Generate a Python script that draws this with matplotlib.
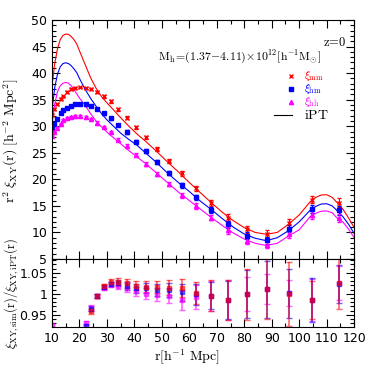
import numpy as np
import matplotlib
matplotlib.use("Agg")
import matplotlib.pyplot as plt
from matplotlib.ticker import MultipleLocator, FormatStrFormatter

plt.rcParams['mathtext.fontset'] = 'cm'
plt.rcParams['font.family'] = 'DejaVu Sans'
plt.rcParams['axes.linewidth'] = 0.8

nan = np.nan

# simulation bins (r in h^-1 Mpc) and r^2 xi values
r_sim = [10.1, 10.8, 11.9, 13.1, 14.1, 15.5, 16.9, 18.5, 20.3, 22.2, 24.2, 26.4, 28.8, 31.4, 34.2,
         37.2, 40.6, 44.1, 48.1, 52.5, 57.2, 62.5, 68.0, 74.2, 81.0, 88.3, 96.2, 104.8, 114.4]
xi_mm = [32.1, 33.2, 34.2, 35.1, 35.6, 36.4, 37.0, 37.2, 37.3, 37.2, 37.0, 36.4, 35.6, 34.7, 33.2,
         31.6, 29.8, 27.9, 25.7, 23.5, 21.1, 18.3, 15.6, 12.8, 10.6, 9.8, 11.8, 16.2, 15.6]
xi_hm = [29.6, 30.4, 31.4, 32.4, 33.1, 33.5, 33.8, 34.1, 34.1, 34.1, 33.8, 33.2, 32.4, 31.5, 30.2,
         28.9, 27.1, 25.3, 23.3, 21.2, 18.9, 16.6, 14.2, 11.5, 9.35, 8.55, 10.7, 14.4, 14.15]
xi_hh = [28.2, 29.0, 29.7, 30.5, 31.2, 31.5, 31.8, 31.9, 31.9, 31.7, 31.4, 30.7, 29.9, 28.9, 27.5,
         26.3, 24.6, 22.9, 21.0, 19.1, 17.0, 14.95, 12.8, 10.4, 8.4, 7.7, 9.65, 13.2, 12.7]
err_top = [0.15, 0.15, 0.15, 0.15, 0.15, 0.15, 0.15, 0.15, 0.15, 0.2, 0.2, 0.2, 0.2, 0.25, 0.25,
           0.3, 0.3, 0.35, 0.35, 0.4, 0.45, 0.5, 0.55, 0.6, 0.65, 0.65, 0.7, 0.75, 0.8]

# iPT predictions
r_ipt = [10, 11, 12, 13, 14, 15, 16, 17, 18, 19, 20, 22, 24, 26, 28, 30, 32, 35, 38, 41, 44, 48,
         52, 56, 60, 64, 68, 72, 76, 80, 84, 88, 92, 96, 100, 104, 106, 108, 110, 112, 114, 116, 118, 120]
ipt_mm = [37.5, 41.8, 44.6, 46.3, 47.1, 47.35, 47.3, 46.9, 46.3, 45.5, 44.2, 41.7, 39.2, 37.2, 35.6,
          34.4, 33.3, 31.6, 30.0, 28.5, 27.2, 25.3, 23.3, 21.4, 19.4, 17.5, 15.6, 13.8, 12.2, 10.9,
          10.0, 9.65, 10.0, 11.5, 13.3, 15.8, 16.6, 17.05, 17.1, 16.6, 15.5, 14.3, 12.7, 10.9]
ipt_hm = [33.0, 37.3, 39.8, 41.2, 41.8, 41.95, 41.8, 41.4, 40.8, 40.1, 39.0, 37.0, 35.3, 33.8, 32.4,
          31.2, 30.2, 28.7, 27.5, 26.4, 25.0, 23.2, 21.2, 19.4, 17.7, 15.9, 14.3, 12.6, 11.0, 9.7,
          8.9, 8.45, 9.0, 10.3, 12.0, 14.2, 14.9, 15.35, 15.4, 15.0, 14.0, 12.9, 11.5, 9.8]
ipt_hh = [30.3, 34.2, 36.5, 37.6, 38.1, 38.25, 38.1, 37.6, 36.9, 36.1, 35.3, 34.0, 32.4, 31.0, 29.9,
          28.9, 28.0, 26.7, 25.4, 24.2, 23.0, 21.2, 19.4, 17.6, 16.0, 14.4, 12.8, 11.3, 9.9, 8.75,
          7.95, 7.55, 7.95, 9.3, 10.5, 13.0, 13.6, 14.0, 14.05, 13.7, 12.6, 11.9, 10.6, 9.0]

# ratio sim / iPT
r_rat = [10.1, 22.2, 24.2, 26.4, 28.8, 31.4, 34.2, 37.2, 40.6, 44.1, 48.1, 52.5, 57.2, 62.5,
         68.0, 74.2, 81.0, 88.3, 96.2, 104.8, 114.4]
rat_mm = [nan, nan, 0.958, 0.995, 1.019, 1.029, 1.029, 1.025, 1.019, 1.017, 1.016, 1.015, 1.014,
          1.002, 0.996, 0.985, 0.999, 1.011, 1.000, 0.985, 1.025]
rat_hm = [nan, 0.924, 0.964, 0.995, 1.016, 1.024, 1.025, 1.019, 1.013, 1.013, 1.010, 1.009, 1.004,
          0.999, 0.996, 0.986, 0.999, 1.011, 1.001, 0.986, 1.024]
rat_hh = [0.926, 0.930, 0.967, 0.995, 1.013, 1.022, 1.019, 1.015, 1.006, 1.000, 0.998, 0.996, 0.985,
          0.993, 0.995, 0.986, 0.999, 1.011, 1.002, 0.986, 1.026]
rerr_mm = [nan, nan, 0.006, 0.004, 0.005, 0.006, 0.008, 0.010, 0.011, 0.013, 0.015, 0.017, 0.022,
           0.027, 0.036, 0.048, 0.061, 0.072, 0.077, 0.046, 0.062]
rerr_hm = [nan, 0.004, 0.006, 0.004, 0.005, 0.005, 0.007, 0.009, 0.010, 0.012, 0.014, 0.017, 0.020,
           0.025, 0.033, 0.045, 0.057, 0.068, 0.058, 0.052, 0.045]
rerr_hh = [0.003, 0.005, 0.007, 0.004, 0.005, 0.006, 0.008, 0.010, 0.011, 0.013, 0.016, 0.019, 0.024,
           0.029, 0.036, 0.048, 0.040, 0.036, 0.030, 0.050, 0.040]

red, blue, mag = '#ff0000', '#0000ff', '#ff00ff'

fig = plt.figure(figsize=(3.74, 3.74), dpi=100)
ax = fig.add_axes([0.139, 0.3075, 0.808, 0.639])
ax2 = fig.add_axes([0.139, 0.1257, 0.808, 0.1818])

# top panel
ax.plot(r_ipt, ipt_mm, color=red, lw=0.8)
ax.plot(r_ipt, ipt_hm, color=blue, lw=0.8)
ax.plot(r_ipt, ipt_hh, color=mag, lw=0.8)
ax.errorbar(r_sim, xi_mm, yerr=err_top, fmt='x', color=red, ms=3, mew=1, elinewidth=0.8, capsize=1.5)
ax.errorbar(r_sim, xi_hm, yerr=err_top, fmt='s', color=blue, ms=3, elinewidth=0.8, capsize=1.5)
ax.errorbar(r_sim, xi_hh, yerr=err_top, fmt='^', color=mag, ms=3, elinewidth=0.8, capsize=1.5)

ax.set_xlim(10, 120)
ax.set_ylim(5, 50)
ax.xaxis.set_major_locator(MultipleLocator(10))
ax.xaxis.set_minor_locator(MultipleLocator(5))
ax.yaxis.set_major_locator(MultipleLocator(5))
ax.yaxis.set_minor_locator(MultipleLocator(1))
ax.tick_params(labelbottom=False)

# legend drawn by hand
ax.text(0.975, 0.905, r'$\mathrm{z\!=\!0}$', transform=ax.transAxes, ha='right', va='center', fontsize=9)
ax.text(0.89, 0.845, r'$\mathrm{M_h\!=\!(1.37\!-\!4.11)\!\times\!10^{12}[h^{-1}M_{\odot}]}$',
        transform=ax.transAxes, ha='right', va='center', fontsize=8.5)
ax.plot([0.79], [0.765], 'x', color=red, ms=3, mew=1, transform=ax.transAxes)
ax.plot([0.79], [0.712], 's', color=blue, ms=3, transform=ax.transAxes)
ax.plot([0.79], [0.659], '^', color=mag, ms=3, transform=ax.transAxes)
ax.plot([0.735, 0.795], [0.603, 0.603], color='k', lw=0.8, transform=ax.transAxes)
ax.text(0.835, 0.765, r'$\xi_{\mathrm{mm}}$', color=red, transform=ax.transAxes, va='center', fontsize=8)
ax.text(0.835, 0.712, r'$\xi_{\mathrm{hm}}$', color=blue, transform=ax.transAxes, va='center', fontsize=8)
ax.text(0.835, 0.659, r'$\xi_{\mathrm{hh}}$', color=mag, transform=ax.transAxes, va='center', fontsize=8)
ax.text(0.835, 0.603, r'$\mathrm{iPT}$', color='k', transform=ax.transAxes, va='center', fontsize=10)

# ratio panel
ax2.errorbar(r_rat, rat_hh, yerr=rerr_hh, fmt='s', color=mag, ms=3, elinewidth=1.2, capsize=2, alpha=0.6)
ax2.errorbar(r_rat, rat_hm, yerr=rerr_hm, fmt='s', color=blue, ms=3, elinewidth=1.2, capsize=2, alpha=0.6)
ax2.errorbar(r_rat, rat_mm, yerr=rerr_mm, fmt='s', color=red, ms=3, elinewidth=1.2, capsize=2, alpha=0.6)
ax2.set_xlim(10, 120)
ax2.set_ylim(0.921, 1.083)
ax2.xaxis.set_major_locator(MultipleLocator(10))
ax2.xaxis.set_minor_locator(MultipleLocator(5))
ax2.yaxis.set_major_locator(MultipleLocator(0.05))
ax2.yaxis.set_minor_locator(MultipleLocator(0.01))
ax2.yaxis.set_major_formatter(FormatStrFormatter('%g'))

for a in (ax, ax2):
    a.tick_params(which='both', direction='in', top=True, right=True, labelsize=9, width=0.8)
    a.tick_params(which='major', length=6)
    a.tick_params(which='minor', length=3)

fig.text(0.5, 0.045, r'$\mathrm{r[h^{-1}\ Mpc]}$', ha='center', va='center', fontsize=10)
fig.text(0.03, 0.623, r'$\mathrm{r^2\ \xi_{XY}(r)\ [h^{-2}\ Mpc^2]}$', rotation=90,
         ha='center', va='center', fontsize=10)
fig.text(0.03, 0.215, r'$\mathrm{\xi_{XY,sim}(r)/\xi_{XY,iPT}(r)}$', rotation=90,
         ha='center', va='center', fontsize=9)

fig.savefig('out.png', dpi=100)
